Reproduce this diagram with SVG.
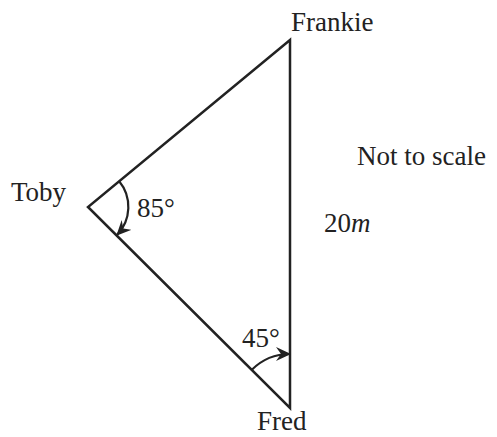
<svg xmlns="http://www.w3.org/2000/svg" width="497" height="437" viewBox="0 0 497 437">
<style>
.lbl{font-family:"Liberation Serif","Times New Roman",serif;font-size:27px;fill:#222}
.edge{fill:none;stroke:#222;stroke-width:2.5;stroke-linejoin:miter}
.arc{fill:none;stroke:#222;stroke-width:2.2}
</style>
<defs>
<marker id="ah" markerUnits="userSpaceOnUse" markerWidth="16" markerHeight="14" viewBox="0 0 16 14" refX="14" refY="7" orient="auto">
<path d="M0,0 L15,7 L0,14 L5,7 Z" fill="#222"/>
</marker>
</defs>
<rect width="497" height="437" fill="#fff"/>
<g id="connectors">
<path class="edge" d="M290,40 L88,207 L290,408 Z"/>
<path class="arc" d="M119,181 A40.5,40.5 0 0 1 117,235" marker-end="url(#ah)"/>
<path class="arc" d="M251.8,369.8 A54,54 0 0 1 290,354" marker-end="url(#ah)"/>
</g>
<g id="frankie"><text class="lbl" x="291" y="31">Frankie</text></g>
<g id="toby"><text class="lbl" x="11" y="201">Toby</text></g>
<g id="fred"><text class="lbl" x="257" y="430">Fred</text></g>
<g id="angle85"><text class="lbl" x="137" y="217">85°</text></g>
<g id="angle45"><text class="lbl" x="242" y="347">45°</text></g>
<g id="side"><text class="lbl" x="324" y="232">20<tspan font-style="italic">m</tspan></text></g>
<g id="note"><text class="lbl" x="357" y="165">Not to scale</text></g>
</svg>
